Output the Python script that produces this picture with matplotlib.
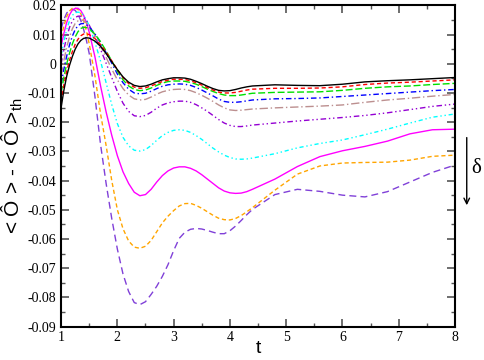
import matplotlib
matplotlib.use("Agg")
import matplotlib.pyplot as plt
from matplotlib.ticker import MultipleLocator

# ---------------- data ----------------
t = [1.0, 1.05, 1.1, 1.15, 1.2, 1.25, 1.3, 1.35, 1.4, 1.45, 1.5,
     1.6, 1.7, 1.8, 1.9, 2.0, 2.1, 2.2, 2.3, 2.4, 2.5, 2.6, 2.7, 2.8, 2.9,
     3.0, 3.1, 3.2, 3.3, 3.4, 3.5, 3.6, 3.7, 3.8, 3.9, 4.0, 4.1, 4.2, 4.3, 4.4,
     4.8, 5.2, 5.6, 6.0, 6.4, 6.8, 7.2, 7.6, 8.0]

black = [-0.0150, -0.0090, -0.0042, -0.0005, 0.0025, 0.0050, 0.0068, 0.0080, 0.0087, 0.0089, 0.0088,
         0.0078, 0.0060, 0.0035, 0.0007, -0.0020, -0.0045, -0.0063, -0.0074, -0.0078, -0.0076, -0.0070, -0.0062, -0.0055, -0.0051,
         -0.0048, -0.0048, -0.0049, -0.0053, -0.0060, -0.0068, -0.0077, -0.0085, -0.0091, -0.0093, -0.0092, -0.0088, -0.0083, -0.0079, -0.0076,
         -0.0072, -0.0074, -0.0075, -0.0070, -0.0062, -0.0058, -0.0055, -0.0051, -0.0047]

red = [-0.0130, -0.0072, -0.0025, 0.0012, 0.0042, 0.0067, 0.0084, 0.0096, 0.0102, 0.0103, 0.0100,
       0.0087, 0.0066, 0.0040, 0.0010, -0.0020, -0.0047, -0.0068, -0.0080, -0.0084, -0.0082, -0.0076, -0.0068, -0.0061, -0.0056,
       -0.0053, -0.0053, -0.0054, -0.0058, -0.0065, -0.0073, -0.0082, -0.0090, -0.0097, -0.0100, -0.0100, -0.0098, -0.0094, -0.0090, -0.0087,
       -0.0084, -0.0084, -0.0083, -0.0079, -0.0071, -0.0066, -0.0063, -0.0059, -0.0055]

green = [-0.0100, -0.0045, 0.0000, 0.0037, 0.0068, 0.0092, 0.0110, 0.0121, 0.0125, 0.0124, 0.0120,
         0.0102, 0.0076, 0.0044, 0.0010, -0.0025, -0.0055, -0.0076, -0.0088, -0.0092, -0.0090, -0.0083, -0.0074, -0.0066, -0.0061,
         -0.0059, -0.0059, -0.0060, -0.0064, -0.0070, -0.0078, -0.0087, -0.0095, -0.0102, -0.0107, -0.0109, -0.0109, -0.0107, -0.0104, -0.0101,
         -0.0098, -0.0097, -0.0096, -0.0091, -0.0084, -0.0079, -0.0076, -0.0071, -0.0067]

blue = [-0.0070, -0.0018, 0.0027, 0.0065, 0.0095, 0.0117, 0.0131, 0.0137, 0.0138, 0.0134, 0.0126,
        0.0103, 0.0073, 0.0038, 0.0002, -0.0035, -0.0065, -0.0087, -0.0100, -0.0103, -0.0101, -0.0094, -0.0085, -0.0077, -0.0072,
        -0.0070, -0.0069, -0.0070, -0.0074, -0.0081, -0.0090, -0.0100, -0.0110, -0.0121, -0.0129, -0.0132, -0.0132, -0.0130, -0.0127, -0.0124,
        -0.0120, -0.0119, -0.0117, -0.0112, -0.0107, -0.0102, -0.0097, -0.0092, -0.0088]

brown = [-0.0040, 0.0012, 0.0057, 0.0093, 0.0120, 0.0138, 0.0147, 0.0150, 0.0148, 0.0140, 0.0128,
         0.0098, 0.0062, 0.0022, -0.0018, -0.0055, -0.0085, -0.0107, -0.0120, -0.0124, -0.0122, -0.0114, -0.0104, -0.0096, -0.0091,
         -0.0088, -0.0087, -0.0088, -0.0092, -0.0099, -0.0108, -0.0118, -0.0129, -0.0141, -0.0151, -0.0158, -0.0160, -0.0159, -0.0157, -0.0155,
         -0.0151, -0.0148, -0.0145, -0.0141, -0.0132, -0.0124, -0.0118, -0.0111, -0.0105]

violet = [0.0000, 0.0050, 0.0092, 0.0125, 0.0147, 0.0159, 0.0163, 0.0163, 0.0158, 0.0148, 0.0132,
          0.0095, 0.0050, 0.0002, -0.0047, -0.0095, -0.0135, -0.0163, -0.0178, -0.0181, -0.0177, -0.0166, -0.0152, -0.0141, -0.0134,
          -0.0130, -0.0128, -0.0128, -0.0132, -0.0140, -0.0151, -0.0163, -0.0177, -0.0191, -0.0203, -0.0211, -0.0215, -0.0215, -0.0213, -0.0210,
          -0.0203, -0.0196, -0.0190, -0.0184, -0.0177, -0.0168, -0.0157, -0.0146, -0.0138]

cyan = [0.0030, 0.0078, 0.0118, 0.0148, 0.0166, 0.0175, 0.0177, 0.0175, 0.0166, 0.0150, 0.0130,
        0.0075, 0.0010, -0.0065, -0.0140, -0.0205, -0.0252, -0.0281, -0.0296, -0.0299, -0.0294, -0.0280, -0.0262, -0.0246, -0.0235,
        -0.0228, -0.0226, -0.0228, -0.0235, -0.0246, -0.0259, -0.0274, -0.0289, -0.0302, -0.0313, -0.0321, -0.0326, -0.0327, -0.0326, -0.0323,
        -0.0308, -0.0288, -0.0273, -0.0261, -0.0243, -0.0224, -0.0203, -0.0183, -0.0172]

magenta = [0.0060, 0.0105, 0.0142, 0.0168, 0.0184, 0.0190, 0.0190, 0.0182, 0.0166, 0.0140, 0.0108,
           0.0025, -0.0075, -0.0165, -0.0245, -0.0315, -0.0370, -0.0410, -0.0440, -0.0452, -0.0448, -0.0430, -0.0405, -0.0383, -0.0367,
           -0.0357, -0.0353, -0.0353, -0.0358, -0.0367, -0.0380, -0.0395, -0.0410, -0.0425, -0.0436, -0.0442, -0.0444, -0.0443, -0.0438, -0.0430,
           -0.0395, -0.0352, -0.0318, -0.0298, -0.0283, -0.0265, -0.0240, -0.0226, -0.0224]

orange = [0.0090, 0.0130, 0.0162, 0.0181, 0.0190, 0.0191, 0.0186, 0.0172, 0.0148, 0.0112, 0.0068,
          -0.0040, -0.0170, -0.0280, -0.0400, -0.0500, -0.0565, -0.0607, -0.0628, -0.0632, -0.0625, -0.0605, -0.0575, -0.0545, -0.0522,
          -0.0503, -0.0487, -0.0479, -0.0478, -0.0485, -0.0495, -0.0507, -0.0519, -0.0529, -0.0534, -0.0535, -0.0530, -0.0520, -0.0507, -0.0493,
          -0.0433, -0.0378, -0.0350, -0.0340, -0.0338, -0.0337, -0.0330, -0.0317, -0.0313]

purple = [0.0120, 0.0152, 0.0174, 0.0184, 0.0187, 0.0183, 0.0170, 0.0148, 0.0118, 0.0080, 0.0035,
          -0.0110, -0.0275, -0.0410, -0.0530, -0.0635, -0.0720, -0.0780, -0.0818, -0.0825, -0.0815, -0.0790, -0.0762, -0.0728, -0.0688,
          -0.0640, -0.0598, -0.0577, -0.0567, -0.0564, -0.0566, -0.0571, -0.0577, -0.0582, -0.0582, -0.0572, -0.0556, -0.0537, -0.0517, -0.0499,
          -0.0448, -0.0430, -0.0437, -0.0450, -0.0456, -0.0438, -0.0405, -0.0372, -0.0347]

series = [
    (black,   "black",   "-"),
    (red,     "#ff0000", (0, (3, 2))),
    (green,   "#00e000", (0, (5, 2))),
    (blue,    "#0000ff", (0, (4, 2, 1, 2))),
    (brown,   "#bc8f8f", (0, (6, 2, 1, 2))),
    (violet,  "#9400d3", (0, (4, 2, 1, 2, 1, 2))),
    (cyan,    "#00ffff", (0, (3, 2, 1, 2, 1, 2))),
    (magenta, "#ff00ff", "-"),
    (orange,  "#ffa500", (0, (3, 2))),
    (purple,  "#8040d8", (0, (5, 3))),
]

# ---------------- figure ----------------
plt.rcParams["mathtext.fontset"] = "custom"
plt.rcParams["mathtext.rm"] = "Liberation Sans"

fig = plt.figure(figsize=(4.85, 3.6), dpi=100)
ax = fig.add_axes([0.126, 0.093, 0.812, 0.892])

for y, c, ls in series[::-1]:
    ax.plot(t, y, color=c, linestyle=ls, lw=1.0)

ax.set_xlim(1, 8)
ax.set_ylim(-0.09, 0.02)
ax.xaxis.set_major_locator(MultipleLocator(1))
ax.xaxis.set_minor_locator(MultipleLocator(0.5))
ax.yaxis.set_major_locator(MultipleLocator(0.01))
ax.yaxis.set_minor_locator(MultipleLocator(0.005))
ax.tick_params(which="both", direction="in", top=True, right=True, color="#555555")
ax.tick_params(which="major", length=6, width=1.2)
ax.tick_params(which="minor", length=3, width=1.0)
ax.yaxis.set_major_formatter(plt.FuncFormatter(lambda v, p: "0" if abs(v) < 1e-9 else f"{v:.2f}"))
ax.xaxis.set_major_formatter(plt.FuncFormatter(lambda v, p: f"{int(round(v))}"))
for lab in ax.get_xticklabels() + ax.get_yticklabels():
    lab.set_fontfamily("Liberation Serif")
    lab.set_fontsize(10)
for s in ax.spines.values():
    s.set_linewidth(1.5)

ax.set_xlabel("t", fontfamily="Liberation Sans", fontsize=14, labelpad=-3)
ax.set_ylabel("< Ô > - < Ô >$_{\\rm th}$", fontfamily="Liberation Sans", fontsize=15, labelpad=2)

# delta arrow on the right
ax.annotate("", xy=(1.030, 0.369), xytext=(1.030, 0.597),
            xycoords="axes fraction", textcoords="axes fraction",
            arrowprops=dict(arrowstyle="->", color="black", lw=1.0), annotation_clip=False)
ax.text(1.055, 0.493, "δ", transform=ax.transAxes, fontsize=15,
        fontfamily="Liberation Serif", ha="center", va="center")

fig.savefig("out.png", dpi=100)
